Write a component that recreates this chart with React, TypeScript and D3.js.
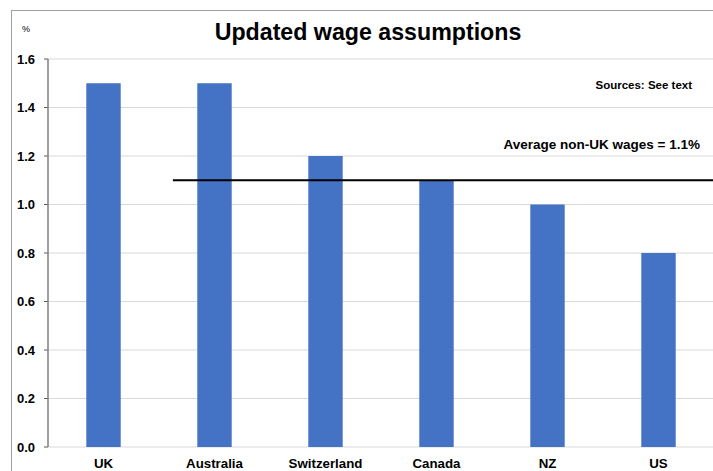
import React from "react";
import * as d3 from "d3";

const categories = ["UK", "Australia", "Switzerland", "Canada", "NZ", "US"];
const wages = [1.5, 1.5, 1.2, 1.1, 1.0, 0.8];
const yTicks = [0, 0.2, 0.4, 0.6, 0.8, 1.0, 1.2, 1.4, 1.6];
const averageNonUK = 1.1;
const titleText = "Updated wage assumptions";
const sourceText = "Sources: See text";
const avgLabel = "Average non-UK wages = 1.1%";

export default function App() {
  const W = 713, H = 471;
  const left = 48, right = 714, top = 59, bottom = 447;
  const x = d3.scaleBand<string>().domain(categories).range([left, right]).paddingInner(0.69).paddingOuter(0.345);
  const y = d3.scaleLinear().domain([0, 1.6]).range([bottom, top]);
  const step = x.step();
  const lineStart = left + step * 1.125;
  const font = "'Liberation Sans', Arial, sans-serif";
  return (
    <svg width={W} height={H} style={{ position: "absolute", left: 0, top: 0, background: "#fff" }} fontFamily={font}>
      <rect x={0} y={0} width={W} height={H} fill="#fff" />
      <rect x={11.5} y={10.5} width={W + 20} height={H + 20} fill="none" stroke="#a0a0a0" strokeWidth={1} />
      {yTicks.map((t) => (
        <g key={t}>
          <line x1={left} x2={right} y1={y(t)} y2={y(t)} stroke="#d9d9d9" strokeWidth={1} />
          <line x1={left - 4} x2={left} y1={y(t)} y2={y(t)} stroke="#595959" strokeWidth={1} />
          <text x={35} y={y(t)} dy="0.35em" textAnchor="end" fontSize={13} fontWeight="bold" fill="#000">
            {t.toFixed(1)}
          </text>
        </g>
      ))}
      <line x1={left} x2={left} y1={top} y2={bottom} stroke="#7f7f7f" strokeWidth={1.5} />
      {categories.map((c, i) => (
        <g key={c}>
          <rect x={x(c)!} y={y(wages[i])} width={x.bandwidth()} height={bottom - y(wages[i])} fill="#4472c4" />
          <text x={x(c)! + x.bandwidth() / 2} y={468} textAnchor="middle" fontSize={13.3} fontWeight="bold" fill="#000">
            {c}
          </text>
        </g>
      ))}
      <line x1={lineStart} x2={right} y1={y(averageNonUK)} y2={y(averageNonUK)} stroke="#000" strokeWidth={2} />
      <text x={368} y={40} textAnchor="middle" fontSize={23.2} fontWeight="bold" fill="#000">{titleText}</text>
      <text x={22} y={32} fontSize={9} fill="#000">%</text>
      <text x={692} y={89} textAnchor="end" fontSize={11.5} fontWeight="bold" fill="#000">{sourceText}</text>
      <text x={700} y={149} textAnchor="end" fontSize={13.5} fontWeight="bold" fill="#000">{avgLabel}</text>
    </svg>
  );
}
